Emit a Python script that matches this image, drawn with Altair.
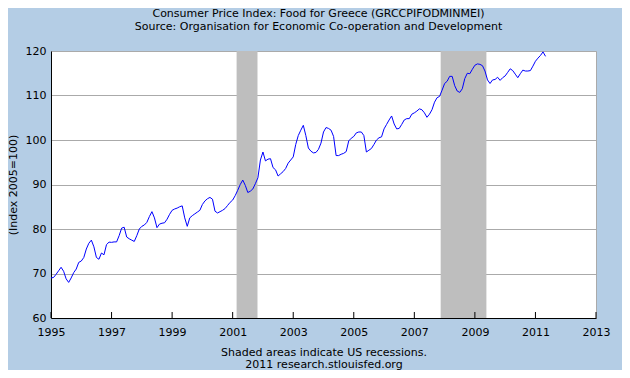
import altair as alt
import pandas as pd

# Monthly CPI Food for Greece, Jan 1995 .. May 2011 (index 2005=100)
values = [
    # 1995
    69.0, 69.1, 69.8, 70.6, 71.4, 70.5, 68.8, 68.0, 69.0, 70.2, 71.0, 72.5,
    # 1996
    72.8, 73.6, 75.5, 76.8, 77.5, 76.0, 73.6, 73.2, 74.6, 74.2, 76.5, 77.05,
    # 1997
    77.0, 77.1, 77.1, 78.5, 80.2, 80.4, 78.2, 77.8, 77.5, 77.2, 78.5, 80.0,
    # 1998
    80.6, 80.9, 81.5, 82.8, 83.9, 82.5, 80.3, 81.1, 81.3, 81.4, 82.2, 83.3,
    # 1999
    84.2, 84.5, 84.7, 85.0, 85.2, 82.5, 80.6, 82.5, 83.0, 83.4, 83.8, 84.2,
    # 2000
    85.5, 86.3, 86.8, 87.1, 86.7, 84.0, 83.6, 83.9, 84.2, 84.6, 85.3, 86.0,
    # 2001
    86.5, 87.5, 88.7, 90.0, 91.0, 89.8, 88.2, 88.5, 89.0, 90.2, 91.5, 95.5,
    # 2002
    97.3, 95.3, 95.7, 95.8, 93.8, 93.3, 91.9, 92.4, 92.9, 93.6, 94.8, 95.5,
    # 2003
    96.2, 99.0, 101.0, 102.2, 103.3, 101.0, 98.2, 97.5, 97.1, 97.2, 97.9, 99.3,
    # 2004
    101.8, 102.8, 102.6, 102.2, 100.8, 96.5, 96.5, 96.8, 97.0, 97.4, 99.8, 100.4,
    # 2005
    100.8, 101.6, 101.8, 101.8, 101.0, 97.3, 97.7, 98.1, 99.0, 100.0, 100.5, 100.7,
    # 2006
    102.5, 103.5, 104.5, 105.4, 103.6, 102.5, 102.6, 103.5, 104.5, 104.8, 104.8, 105.8,
    # 2007
    106.1, 106.5, 107.0, 106.8, 106.1, 105.1, 105.8, 106.8, 108.5, 109.5, 109.8, 111.2,
    # 2008
    112.7, 113.2, 114.3, 114.3, 112.2, 111.0, 110.7, 111.5, 113.8, 115.0, 114.9, 115.9,
    # 2009
    116.8, 117.1, 117.0, 116.7, 115.5, 113.5, 112.7, 113.5, 113.6, 114.1, 113.4, 114.0,
    # 2010
    114.4, 115.2, 116.0, 115.6, 114.8, 114.0, 114.9, 115.7, 115.5, 115.5, 115.6, 116.6,
    # 2011
    117.7, 118.4, 119.0, 119.8, 118.8,
]
start_year = 1995

rec_start = [2001.13, 2007.87]
rec_end = [2001.82, 2009.38]

x_ticks = [1995, 1997, 1999, 2001, 2003, 2005, 2007, 2009, 2011, 2013]
y_ticks = [60, 70, 80, 90, 100, 110, 120]

df = pd.DataFrame({
    "t": [start_year + i / 12 for i in range(len(values))],
    "v": values,
})
rec = pd.DataFrame({"s": rec_start, "e": rec_end})
ticks = pd.DataFrame({"t": x_ticks})

FONT = "DejaVu Sans"
W, H = 545, 267

xscale = alt.Scale(domain=[1995, 2013], nice=False, zero=False)
yscale = alt.Scale(domain=[60, 120], nice=False, zero=False)

bars = alt.Chart(rec).mark_rect(color="#BEBEBE").encode(
    x=alt.X("s:Q", scale=xscale),
    x2="e:Q",
)

tickmarks = alt.Chart(ticks).mark_rule(color="black", strokeWidth=1).encode(
    x=alt.X("t:Q", scale=xscale),
    y=alt.value(H),
    y2=alt.value(H - 6),
)

line = alt.Chart(df).mark_line(color="#0000FF", strokeWidth=1, interpolate="linear").encode(
    x=alt.X(
        "t:Q",
        scale=xscale,
        axis=alt.Axis(
            values=x_ticks,
            format="d",
            ticks=False,
            labelFlush=False,
            labelOverlap=False,
            labelPadding=8,
            labelFontSize=11,
            labelFont=FONT,
            labelColor="black",
            domainColor="black",
            grid=False,
            title=["Shaded areas indicate US recessions.", "2011 research.stlouisfed.org"],
            titleFont=FONT,
            titleFontSize=11,
            titleFontWeight="normal",
            titleColor="black",
            titlePadding=9,
            titleLineHeight=12,
        ),
    ),
    y=alt.Y(
        "v:Q",
        scale=yscale,
        axis=alt.Axis(
            values=y_ticks,
            ticks=False,
            labelFlush=False,
            labelPadding=5,
            labelFontSize=11,
            labelFont=FONT,
            labelColor="black",
            domainColor="black",
            grid=True,
            gridColor="#AAAAAA",
            gridWidth=1,
            title="(Index 2005=100)",
            titleFont=FONT,
            titleFontSize=11,
            titleFontWeight="normal",
            titleColor="black",
            titlePadding=7,
        ),
    ),
)

chart = alt.layer(bars, line, tickmarks).properties(
    width=W,
    height=H,
    background="#B4CDE5",
    padding={"left": 43, "top": 43, "right": 26, "bottom": 52},
    autosize=alt.AutoSizeParams(type="none"),
    title=alt.TitleParams(
        text=["Consumer Price Index: Food for Greece (GRCCPIFODMINMEI)",
              "Source: Organisation for Economic Co-operation and Development"],
        font=FONT,
        fontSize=11,
        fontWeight="normal",
        color="black",
        anchor="middle",
        lineHeight=13,
        offset=13,
        dx=-5,
    ),
).configure_view(
    stroke="#AAAAAA",
    strokeWidth=1,
    fill="white",
)

chart.save("out.html", embed_options={"renderer": "svg", "actions": False})
